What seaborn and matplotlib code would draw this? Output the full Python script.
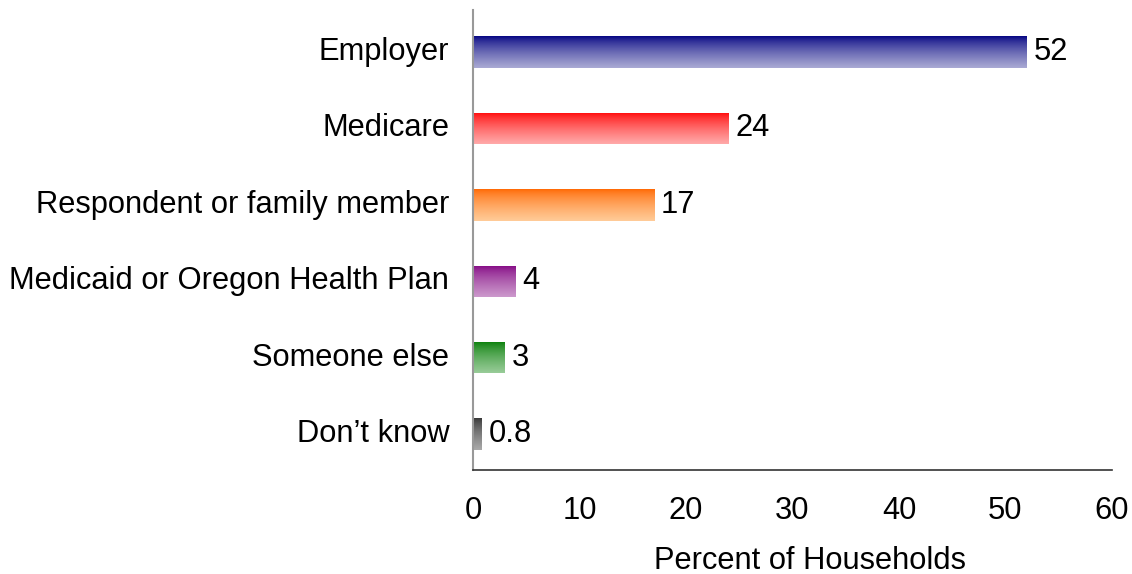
import numpy as np
import pandas as pd
import matplotlib
matplotlib.use("Agg")
import matplotlib.pyplot as plt
from matplotlib.colors import LinearSegmentedColormap
from matplotlib.transforms import ScaledTranslation
import seaborn as sns

# Who pays for the household's health insurance
sources = ["Employer", "Medicare", "Respondent or family member",
           "Medicaid or Oregon Health Plan", "Someone else", "Don\u2019t know"]
percent = [52, 24, 17, 4, 3, 0.8]
value_labels = ["52", "24", "17", "4", "3", "0.8"]
x_ticks = [0, 10, 20, 30, 40, 50, 60]

# top (dark) and bottom (light) colour of each bar's vertical gradient
top_colors = ["#000080", "#ff0000", "#ff6600", "#800080", "#007a00", "#333333"]
bottom_colors = ["#aaaad4", "#ffaaaa", "#ffcc99", "#cc99cc", "#99cc99", "#aaaaaa"]

sns.set_style("white")
plt.rcParams["font.family"] = ["Liberation Sans", "DejaVu Sans"]
plt.rcParams["text.color"] = "black"
plt.rcParams["axes.labelcolor"] = "black"
plt.rcParams["xtick.color"] = "black"
plt.rcParams["ytick.color"] = "black"

FS = 22.2

df = pd.DataFrame({"source": sources, "percent": percent})

fig = plt.figure(figsize=(11.32, 5.74), dpi=100)
ax = fig.add_axes([0.4178, 0.1812, 0.5645, 0.8014])

sns.barplot(data=df, x="percent", y="source", order=sources, orient="h",
            width=0.41, color="white", ax=ax, errorbar=None)

ax.set_xlim(0, 60)
ax.set_ylim(5.47, -0.55)

# paint each bar with a vertical gradient clipped to the bar rectangle
for patch, c_top, c_bot, lab in zip(ax.patches, top_colors, bottom_colors, value_labels):
    x0, y0 = patch.get_x(), patch.get_y()
    w, h = patch.get_width(), patch.get_height()
    cmap = LinearSegmentedColormap.from_list("g", [c_top, c_bot])
    grad = np.linspace(0, 1, 256) ** 0.7
    grad = grad.reshape(-1, 1)
    im = ax.imshow(grad, cmap=cmap, aspect="auto", interpolation="bicubic",
                   extent=(x0, x0 + w, y0 + h, y0), zorder=2)
    im.set_clip_path(patch)
    patch.set_facecolor("none")
    patch.set_edgecolor("none")
    ax.annotate(lab, xy=(x0 + w, y0 + h / 2), xytext=(5, 0),
                textcoords="offset points", ha="left", va="center",
                fontsize=FS, color="black")

ax.set_xlim(0, 60)
ax.set_ylim(5.47, -0.55)
ax.set_xticks(x_ticks)
ax.set_xticklabels([str(t) for t in x_ticks])
ax.tick_params(axis="x", length=0, pad=19, labelsize=FS, labelcolor="black")
ax.tick_params(axis="y", length=0, pad=17, labelsize=FS, labelcolor="black")

# nudge category labels up slightly
shift = ScaledTranslation(0, 2.5 / 72, fig.dpi_scale_trans)
for t in ax.get_yticklabels():
    t.set_transform(t.get_transform() + shift)

ax.set_xlabel("Percent of Households", fontsize=FS, color="black", va="baseline")
ax.xaxis.set_label_coords((810 - 473) / 639, -0.215)
ax.set_ylabel("")

sns.despine(ax=ax, top=True, right=True)
ax.spines["left"].set_color("#999999")
ax.spines["left"].set_linewidth(1.5)
ax.spines["bottom"].set_color("#333333")
ax.spines["bottom"].set_linewidth(1.2)

fig.savefig("out.png", dpi=100)
